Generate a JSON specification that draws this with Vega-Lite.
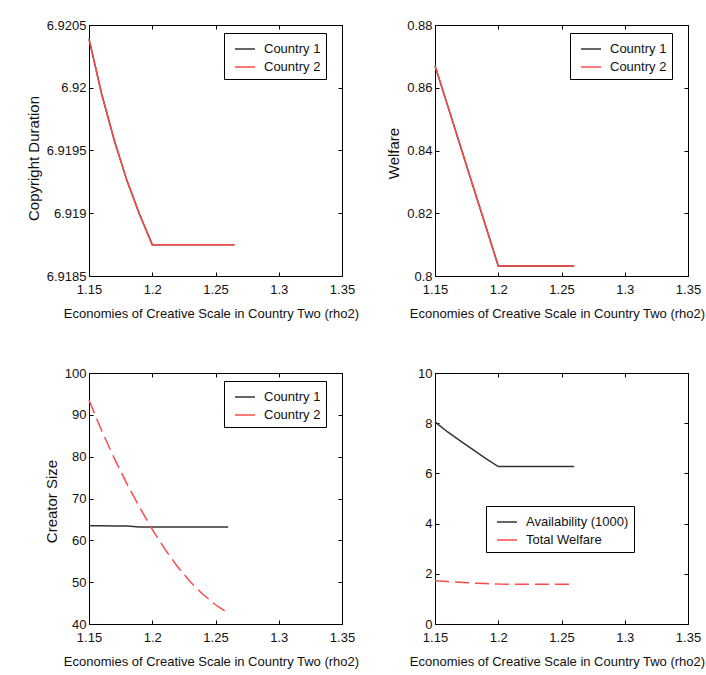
{
  "$schema": "https://vega.github.io/schema/vega-lite/v6.json",
  "padding": {"left": 25, "top": 18, "right": 0, "bottom": 0},
  "background": "white",
  "datasets": {
    "copyright": [
      {"rho2": 1.15, "series": "Country 1", "value": 6.92039},
      {"rho2": 1.16, "series": "Country 1", "value": 6.91995},
      {"rho2": 1.17, "series": "Country 1", "value": 6.91958},
      {"rho2": 1.18, "series": "Country 1", "value": 6.91926},
      {"rho2": 1.19, "series": "Country 1", "value": 6.91899},
      {"rho2": 1.2, "series": "Country 1", "value": 6.91875},
      {"rho2": 1.21, "series": "Country 1", "value": 6.91875},
      {"rho2": 1.22, "series": "Country 1", "value": 6.91875},
      {"rho2": 1.23, "series": "Country 1", "value": 6.91875},
      {"rho2": 1.24, "series": "Country 1", "value": 6.91875},
      {"rho2": 1.25, "series": "Country 1", "value": 6.91875},
      {"rho2": 1.265, "series": "Country 1", "value": 6.91875},
      {"rho2": 1.15, "series": "Country 2", "value": 6.92039},
      {"rho2": 1.16, "series": "Country 2", "value": 6.91995},
      {"rho2": 1.17, "series": "Country 2", "value": 6.91958},
      {"rho2": 1.18, "series": "Country 2", "value": 6.91926},
      {"rho2": 1.19, "series": "Country 2", "value": 6.91899},
      {"rho2": 1.2, "series": "Country 2", "value": 6.91875},
      {"rho2": 1.21, "series": "Country 2", "value": 6.91875},
      {"rho2": 1.22, "series": "Country 2", "value": 6.91875},
      {"rho2": 1.23, "series": "Country 2", "value": 6.91875},
      {"rho2": 1.24, "series": "Country 2", "value": 6.91875},
      {"rho2": 1.25, "series": "Country 2", "value": 6.91875},
      {"rho2": 1.265, "series": "Country 2", "value": 6.91875}
    ],
    "welfare": [
      {"rho2": 1.15, "series": "Country 1", "value": 0.867},
      {"rho2": 1.16, "series": "Country 1", "value": 0.8543},
      {"rho2": 1.17, "series": "Country 1", "value": 0.8415},
      {"rho2": 1.18, "series": "Country 1", "value": 0.8287},
      {"rho2": 1.19, "series": "Country 1", "value": 0.816},
      {"rho2": 1.2, "series": "Country 1", "value": 0.8032},
      {"rho2": 1.22, "series": "Country 1", "value": 0.8032},
      {"rho2": 1.24, "series": "Country 1", "value": 0.8032},
      {"rho2": 1.26, "series": "Country 1", "value": 0.8032},
      {"rho2": 1.15, "series": "Country 2", "value": 0.867},
      {"rho2": 1.16, "series": "Country 2", "value": 0.8543},
      {"rho2": 1.17, "series": "Country 2", "value": 0.8415},
      {"rho2": 1.18, "series": "Country 2", "value": 0.8287},
      {"rho2": 1.19, "series": "Country 2", "value": 0.816},
      {"rho2": 1.2, "series": "Country 2", "value": 0.8032},
      {"rho2": 1.22, "series": "Country 2", "value": 0.8032},
      {"rho2": 1.24, "series": "Country 2", "value": 0.8032},
      {"rho2": 1.26, "series": "Country 2", "value": 0.8032}
    ],
    "creators": [
      {"rho2": 1.15, "series": "Country 1", "value": 63.5},
      {"rho2": 1.16, "series": "Country 1", "value": 63.5},
      {"rho2": 1.17, "series": "Country 1", "value": 63.45},
      {"rho2": 1.18, "series": "Country 1", "value": 63.4},
      {"rho2": 1.19, "series": "Country 1", "value": 63.2},
      {"rho2": 1.2, "series": "Country 1", "value": 63.2},
      {"rho2": 1.22, "series": "Country 1", "value": 63.2},
      {"rho2": 1.24, "series": "Country 1", "value": 63.2},
      {"rho2": 1.26, "series": "Country 1", "value": 63.2},
      {"rho2": 1.15, "series": "Country 2", "value": 93.5},
      {"rho2": 1.16, "series": "Country 2", "value": 86.2},
      {"rho2": 1.17, "series": "Country 2", "value": 79.6},
      {"rho2": 1.18, "series": "Country 2", "value": 73.5},
      {"rho2": 1.19, "series": "Country 2", "value": 67.9},
      {"rho2": 1.2, "series": "Country 2", "value": 62.6},
      {"rho2": 1.21, "series": "Country 2", "value": 57.9},
      {"rho2": 1.22, "series": "Country 2", "value": 53.7},
      {"rho2": 1.23, "series": "Country 2", "value": 50.1},
      {"rho2": 1.24, "series": "Country 2", "value": 47.1},
      {"rho2": 1.25, "series": "Country 2", "value": 44.6},
      {"rho2": 1.26, "series": "Country 2", "value": 42.6}
    ],
    "availability": [
      {"rho2": 1.15, "series": "Availability (1000)", "value": 8.05},
      {"rho2": 1.16, "series": "Availability (1000)", "value": 7.65},
      {"rho2": 1.17, "series": "Availability (1000)", "value": 7.3},
      {"rho2": 1.18, "series": "Availability (1000)", "value": 6.95},
      {"rho2": 1.19, "series": "Availability (1000)", "value": 6.6},
      {"rho2": 1.2, "series": "Availability (1000)", "value": 6.27},
      {"rho2": 1.22, "series": "Availability (1000)", "value": 6.27},
      {"rho2": 1.24, "series": "Availability (1000)", "value": 6.27},
      {"rho2": 1.26, "series": "Availability (1000)", "value": 6.27},
      {"rho2": 1.15, "series": "Total Welfare", "value": 1.72},
      {"rho2": 1.16, "series": "Total Welfare", "value": 1.69},
      {"rho2": 1.17, "series": "Total Welfare", "value": 1.66},
      {"rho2": 1.18, "series": "Total Welfare", "value": 1.63},
      {"rho2": 1.19, "series": "Total Welfare", "value": 1.61},
      {"rho2": 1.2, "series": "Total Welfare", "value": 1.59},
      {"rho2": 1.22, "series": "Total Welfare", "value": 1.58},
      {"rho2": 1.24, "series": "Total Welfare", "value": 1.58},
      {"rho2": 1.26, "series": "Total Welfare", "value": 1.58}
    ]
  },
  "columns": 2,
  "bounds": "flush",
  "spacing": {"row": 97, "column": 93},
  "resolve": {"scale": {"color": "independent"}, "legend": {"color": "independent"}},
  "concat": [
    {
      "width": 253, "height": 251,
      "data": {"name": "copyright"},
      "layer": [
        {
          "mark": {"type": "line", "strokeWidth": 1.5},
          "encoding": {
            "x": {"field": "rho2", "type": "quantitative", "scale": {"domain": [1.15, 1.35], "nice": false, "zero": false}, "axis": {"values": [1.15, 1.2, 1.25, 1.3, 1.35], "format": ".2~f", "title": "Economies of Creative Scale in Country Two (rho2)", "titleX": 122}},
            "y": {"field": "value", "type": "quantitative", "scale": {"domain": [6.9185, 6.9205], "nice": false, "zero": false}, "axis": {"values": [6.9185, 6.919, 6.9195, 6.92, 6.9205], "format": ".4~f", "title": "Copyright Duration", "titleY": 133}},
            "color": {"field": "series", "type": "nominal", "scale": {"domain": ["Country 1", "Country 2"], "range": ["#333333", "#ff4a4a"]}, "legend": {"title": null, "legendX": 135, "legendY": 8}}
          }
        },
        {
          "mark": {"type": "point", "opacity": 0},
          "encoding": {
            "x": {"field": "rho2", "type": "quantitative", "scale": {"domain": [1.15, 1.35], "nice": false, "zero": false}, "axis": {"orient": "top", "values": [1.15, 1.2, 1.25, 1.3, 1.35], "labels": false, "title": null}},
            "y": {"field": "value", "type": "quantitative", "scale": {"domain": [6.9185, 6.9205], "nice": false, "zero": false}, "axis": {"orient": "right", "values": [6.9185, 6.919, 6.9195, 6.92, 6.9205], "labels": false, "title": null}}
          }
        }
      ],
      "resolve": {"axis": {"x": "independent", "y": "independent"}}
    },
    {
      "width": 253, "height": 251,
      "data": {"name": "welfare"},
      "layer": [
        {
          "mark": {"type": "line", "strokeWidth": 1.5},
          "encoding": {
            "x": {"field": "rho2", "type": "quantitative", "scale": {"domain": [1.15, 1.35], "nice": false, "zero": false}, "axis": {"values": [1.15, 1.2, 1.25, 1.3, 1.35], "format": ".2~f", "title": "Economies of Creative Scale in Country Two (rho2)", "titleX": 122}},
            "y": {"field": "value", "type": "quantitative", "scale": {"domain": [0.8, 0.88], "nice": false, "zero": false}, "axis": {"values": [0.8, 0.82, 0.84, 0.86, 0.88], "format": ".2~f", "title": "Welfare", "titleY": 128}},
            "color": {"field": "series", "type": "nominal", "scale": {"domain": ["Country 1", "Country 2"], "range": ["#333333", "#ff4a4a"]}, "legend": {"title": null, "legendX": 135, "legendY": 8}}
          }
        },
        {
          "mark": {"type": "point", "opacity": 0},
          "encoding": {
            "x": {"field": "rho2", "type": "quantitative", "scale": {"domain": [1.15, 1.35], "nice": false, "zero": false}, "axis": {"orient": "top", "values": [1.15, 1.2, 1.25, 1.3, 1.35], "labels": false, "title": null}},
            "y": {"field": "value", "type": "quantitative", "scale": {"domain": [0.8, 0.88], "nice": false, "zero": false}, "axis": {"orient": "right", "values": [0.8, 0.82, 0.84, 0.86, 0.88], "labels": false, "title": null}}
          }
        }
      ],
      "resolve": {"axis": {"x": "independent", "y": "independent"}}
    },
    {
      "width": 253, "height": 251,
      "data": {"name": "creators"},
      "layer": [
        {
          "transform": [{"filter": "datum.series === 'Country 1'"}],
          "mark": {"type": "line", "strokeWidth": 1.5},
          "encoding": {
            "x": {"field": "rho2", "type": "quantitative", "scale": {"domain": [1.15, 1.35], "nice": false, "zero": false}, "axis": {"values": [1.15, 1.2, 1.25, 1.3, 1.35], "format": ".2~f", "title": "Economies of Creative Scale in Country Two (rho2)", "titleX": 122}},
            "y": {"field": "value", "type": "quantitative", "scale": {"domain": [40, 100], "nice": false, "zero": false}, "axis": {"values": [40, 50, 60, 70, 80, 90, 100], "title": "Creator Size", "titleY": 128}},
            "color": {"field": "series", "type": "nominal", "scale": {"domain": ["Country 1", "Country 2"], "range": ["#333333", "#ff4a4a"]}, "legend": {"title": null, "legendX": 135, "legendY": 8}}
          }
        },
        {
          "transform": [{"filter": "datum.series === 'Country 2'"}],
          "mark": {"type": "line", "strokeWidth": 1.5, "strokeDash": [14, 6]},
          "encoding": {
            "x": {"field": "rho2", "type": "quantitative", "scale": {"domain": [1.15, 1.35], "nice": false, "zero": false}, "axis": null},
            "y": {"field": "value", "type": "quantitative", "scale": {"domain": [40, 100], "nice": false, "zero": false}, "axis": null},
            "color": {"field": "series", "type": "nominal", "scale": {"domain": ["Country 1", "Country 2"], "range": ["#333333", "#ff4a4a"]}}
          }
        },
        {
          "mark": {"type": "point", "opacity": 0},
          "encoding": {
            "x": {"field": "rho2", "type": "quantitative", "scale": {"domain": [1.15, 1.35], "nice": false, "zero": false}, "axis": {"orient": "top", "values": [1.15, 1.2, 1.25, 1.3, 1.35], "labels": false, "title": null}},
            "y": {"field": "value", "type": "quantitative", "scale": {"domain": [40, 100], "nice": false, "zero": false}, "axis": {"orient": "right", "values": [40, 50, 60, 70, 80, 90, 100], "labels": false, "title": null}}
          }
        }
      ],
      "resolve": {"axis": {"x": "independent", "y": "independent"}}
    },
    {
      "width": 253, "height": 251,
      "data": {"name": "availability"},
      "layer": [
        {
          "transform": [{"filter": "datum.series === 'Availability (1000)'"}],
          "mark": {"type": "line", "strokeWidth": 1.5},
          "encoding": {
            "x": {"field": "rho2", "type": "quantitative", "scale": {"domain": [1.15, 1.35], "nice": false, "zero": false}, "axis": {"values": [1.15, 1.2, 1.25, 1.3, 1.35], "format": ".2~f", "title": "Economies of Creative Scale in Country Two (rho2)", "titleX": 122}},
            "y": {"field": "value", "type": "quantitative", "scale": {"domain": [0, 10], "nice": false, "zero": false}, "axis": {"values": [0, 2, 4, 6, 8, 10], "title": null}},
            "color": {"field": "series", "type": "nominal", "scale": {"domain": ["Availability (1000)", "Total Welfare"], "range": ["#333333", "#ff4a4a"]}, "legend": {"title": null, "legendX": 51, "legendY": 133}}
          }
        },
        {
          "transform": [{"filter": "datum.series === 'Total Welfare'"}],
          "mark": {"type": "line", "strokeWidth": 1.5, "strokeDash": [14, 6]},
          "encoding": {
            "x": {"field": "rho2", "type": "quantitative", "scale": {"domain": [1.15, 1.35], "nice": false, "zero": false}, "axis": null},
            "y": {"field": "value", "type": "quantitative", "scale": {"domain": [0, 10], "nice": false, "zero": false}, "axis": null},
            "color": {"field": "series", "type": "nominal", "scale": {"domain": ["Availability (1000)", "Total Welfare"], "range": ["#333333", "#ff4a4a"]}}
          }
        },
        {
          "mark": {"type": "point", "opacity": 0},
          "encoding": {
            "x": {"field": "rho2", "type": "quantitative", "scale": {"domain": [1.15, 1.35], "nice": false, "zero": false}, "axis": {"orient": "top", "values": [1.15, 1.2, 1.25, 1.3, 1.35], "labels": false, "title": null}},
            "y": {"field": "value", "type": "quantitative", "scale": {"domain": [0, 10], "nice": false, "zero": false}, "axis": {"orient": "right", "values": [0, 2, 4, 6, 8, 10], "labels": false, "title": null}}
          }
        }
      ],
      "resolve": {"axis": {"x": "independent", "y": "independent"}}
    }
  ],
  "config": {
    "font": "Liberation Sans",
    "view": {"stroke": "#000000", "strokeWidth": 1},
    "axis": {
      "grid": false,
      "domainColor": "#000000",
      "tickColor": "#000000",
      "tickSize": -4,
      "labelFontSize": 13,
      "labelColor": "#111111",
      "titleFontSize": 13,
      "titleFontWeight": "normal",
      "titleColor": "#111111",
      "labelFlush": false,
      "labelOverlap": false
    },
    "axisX": {"labelPadding": 11, "titlePadding": 11},
    "axisY": {"labelPadding": 7, "titlePadding": 5, "titleFontSize": 15},
    "legend": {
      "orient": "none",
      "strokeColor": "#000000",
      "fillColor": "#ffffff",
      "padding": 5,
      "labelFontSize": 13,
      "labelColor": "#111111",
      "symbolType": "stroke",
      "symbolSize": 400,
      "symbolStrokeWidth": 1.5,
      "symbolOffset": 5,
      "rowPadding": 0,
      "labelOffset": 8
    }
  }
}
